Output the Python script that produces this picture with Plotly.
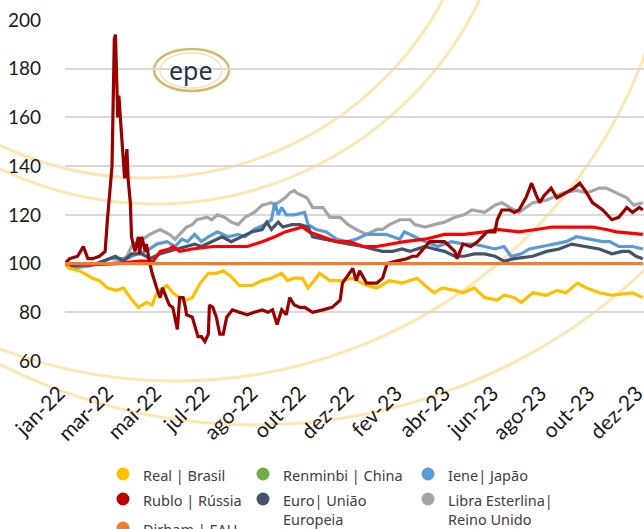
import plotly.graph_objects as go

# ---------------- data (trading-day index, index 100 = jan-22) ----------------
tick_idx = [0, 42, 84, 126, 168, 210, 252, 294, 336, 378, 420, 462, 504]
tick_labels = ["jan-22", "mar-22", "mai-22", "jul-22", "ago-22", "out-22", "dez-22",
               "fev-23", "abr-23", "jun-23", "ago-23", "out-23", "dez-23"]

real_x = [0,4,13,24,30,37,45,51,57,64,71,76,80,83,89,94,100,106,111,118,125,132,138,144,152,163,172,180,189,194,
          200,207,212,219,222,231,242,251,263,272,283,294,307,314,322,329,340,347,357,366,377,383,392,398,408,420,429,
          437,447,455,466,477,495,504]
real_y = [100,98,97,94,93,90,89,90,86,82,84,83,88,89,91,88,86,85,86,92,96,96,97,95,91,91,93,94,96,93,
          94,94,90,94,96,93,93,94,91,90,93,92,94,91,88,90,89,88,90,86,85,87,86,84,88,87,89,
          88,92,90,88,87,88,86]

rublo_x = [0,4,11,16,20,24,30,35,37,41,43,44,46,47,49,51,52,54,55,57,58,61,64,65,67,70,71,74,76,80,83,85,89,91,94,98,
           100,103,105,106,111,113,116,119,122,125,126,129,132,135,138,141,146,152,159,165,172,177,181,185,189,193,196,
           200,205,209,216,225,233,240,242,248,251,254,257,263,272,277,281,289,298,303,307,318,331,340,342,347,354,360,
           368,375,377,381,388,392,396,402,407,411,414,418,424,429,437,444,449,455,460,469,477,483,490,495,501,504]
rublo_y = [100,102,103,107,102,102,103,105,118,140,192,194,160,169,155,144,135,147,135,125,111,105,111,104,111,105,108,100,96,90,86,90,85,83,82,73,
           86,86,82,79,78,75,70,70,68,71,83,82,78,71,71,78,81,80,79,80,81,80,81,75,81,79,86,
           83,82,82,80,81,82,85,92,96,98,93,97,92,92,94,100,101,102,103,103,109,109,105,102,108,107,109,
           113,113,118,122,122,121,122,127,133,128,125,128,131,127,129,131,133,129,125,122,118,119,123,121,123,122]

dirham_x = [0, 504]
dirham_y = [100, 100]

renminbi_x = [0,20,45,65,77,83,91,94,100,111,129,146,159,172,183,192,200,207,213,225,237,248,260,272,283,296,314,331,
              348,366,377,396,411,425,442,460,472,481,504]
renminbi_y = [100,99.5,100,101,101,105,106,107,105,106,107,107,107,109,111,113,114,115,113,111,109,109,107,107,108,109,110,112,
              112,113,114,113,114,115,115,115,114,113,112]

euro_x = [0,4,28,39,44,51,58,67,74,83,91,98,106,113,119,128,137,145,154,163,172,176,180,186,190,198,205,212,216,225,
          237,248,260,268,277,286,294,301,314,322,331,340,348,357,366,375,383,392,408,420,431,442,455,466,477,486,492,498,504]
euro_y = [100,99,100,102,103,101,104,104,102,104,105,106,107,108,107,109,111,109,111,113,114,117,114,117,115,116,116,115,111,110,
          109,108,107,106,105,105,106,105,107,106,105,103,103,104,104,103,101,102,103,105,106,108,107,106,104,105,105,103,102]

iene_x = [0,4,22,39,54,63,71,80,89,96,102,107,113,119,125,133,142,151,157,165,174,180,183,186,189,193,200,209,212,219,
          228,237,246,254,263,272,280,292,296,305,314,325,337,348,357,366,375,383,389,398,405,416,425,437,446,457,469,475,
          483,495,504]
iene_y = [100,98,99,102,102,104,105,108,109,107,110,109,112,109,111,113,111,112,111,114,116,118,125,120,123,120,120,121,116,114,
          113,110,109,110,112,112,112,110,113,111,109,107,109,108,108,107,106,107,103,104,106,107,108,109,111,110,109,109,
          107,107,106]

libra_x = [0,10,25,40,48,54,59,68,74,78,83,91,96,102,106,111,115,124,128,133,139,145,151,157,165,172,180,183,192,196,
           200,202,211,216,225,231,240,247,254,263,272,277,283,292,301,305,314,322,331,340,348,355,366,375,381,388,396,
           408,420,434,446,455,466,472,481,490,496,504]
libra_y = [100,99,100,100,101,103,108,110,112,113,114,112,110,113,115,116,118,119,118,120,119,117,116,119,121,124,125,124,127,129,
           130,129,127,123,123,119,119,116,114,112,114,114,116,118,118,116,115,116,117,119,120,122,121,124,125,123,121,
           125,126,129,130,129,131,131,129,127,124,125]

legend_names = ["Real | Brasil", "Rublo | Rússia", "Dirham | EAU", "Renminbi | China",
                "Euro| União<br>Europeia", "Iene| Japão", "Libra Esterlina|<br>Reino Unido"]
legend_colors = ["#FFC000", "#C00000", "#ED7D31", "#70AD47", "#44546A", "#5B9BD5", "#A5A5A5"]

# ---------------- figure geometry ----------------
W, H = 644, 529
L, R, T, B = 65, 0, 20, 168
PW, PH = W - L - R, H - T - B

def px(xp):
    return (xp - L) / PW

def py(yp):
    return (H - B - yp) / PH

fig = go.Figure()

lw = 3.2
series = [
    (libra_x, libra_y, "#A5A5A5", "Libra Esterlina | Reino Unido"),
    (iene_x, iene_y, "#5B9BD5", "Iene | Japão"),
    (euro_x, euro_y, "#44546A", "Euro | União Europeia"),
    (real_x, real_y, "#FFC000", "Real | Brasil"),
    (renminbi_x, renminbi_y, "#FF0000", "Renminbi | China"),
    (rublo_x, rublo_y, "#990000", "Rublo | Rússia"),
    (dirham_x, dirham_y, "#ED7D31", "Dirham | EAU"),
]
for xs, ys, col, nm in series:
    fig.add_trace(go.Scatter(x=xs, y=ys, mode="lines", name=nm, showlegend=False,
                             line=dict(color=col, width=lw), hoverinfo="x+y+name"))

shapes = []
# decorative arcs (background template)
arc_col = "rgba(255,196,70,0.42)"
for cx, cy, r in [(145, -160, 338), (155, -156, 360), (176, -119, 500), (255, -142, 567)]:
    shapes.append(dict(type="circle", xref="paper", yref="paper", layer="below",
                       x0=px(cx - r), x1=px(cx + r), y0=py(cy + r), y1=py(cy - r),
                       line=dict(color=arc_col, width=3)))
# logo ring
shapes.append(dict(type="circle", xref="paper", yref="paper", layer="below",
                   x0=px(154), x1=px(229), y0=py(91), y1=py(49),
                   line=dict(color="rgba(200,160,60,0.75)", width=2.5)))
shapes.append(dict(type="circle", xref="paper", yref="paper", layer="below",
                   x0=px(160), x1=px(222), y0=py(88), y1=py(53),
                   line=dict(color="rgba(225,200,120,0.5)", width=1.5)))

annotations = [dict(text="epe", xref="paper", yref="paper", x=px(191), y=py(70),
                    showarrow=False, font=dict(family="Noto Sans", size=25, color="#1D3552"),
                    xanchor="center", yanchor="middle")]

# manual legend (3 columns, column-major like the original)
leg_pos = [(123, 474), (123, 499), (123, 528), (263, 474), (263, 499), (428, 474), (428, 499)]
for (mx, my), nm, col in zip(leg_pos, legend_names, legend_colors):
    shapes.append(dict(type="circle", xref="paper", yref="paper", xsizemode="pixel", ysizemode="pixel",
                       xanchor=px(mx), yanchor=py(my), x0=-6.5, x1=6.5, y0=-6.5, y1=6.5,
                       fillcolor=col, line=dict(width=0)))
    annotations.append(dict(text=nm, xref="paper", yref="paper", x=px(mx + 18), y=py(my - 11),
                            showarrow=False, xanchor="left", yanchor="top", align="left",
                            font=dict(family="Noto Sans", size=14.5, color="#404040")))

fig.update_layout(
    width=W, height=H, margin=dict(l=L, r=R, t=T, b=B, pad=0, autoexpand=False),
    paper_bgcolor="white", plot_bgcolor="rgba(0,0,0,0)",
    shapes=shapes, annotations=annotations, showlegend=False,
    font=dict(family="Lato", color="#1a1a1a"),
)
fig.update_xaxes(range=[0, 505], tickvals=tick_idx, ticktext=tick_labels, tickangle=-45,
                 showgrid=False, zeroline=False, showline=False, ticks="", automargin=False,
                 ticklabeloverflow="allow", ticklabelshift=-6,
                 tickfont=dict(family="Lato", size=21, color="#1a1a1a"), ticklabelstandoff=15)
fig.update_yaxes(range=[60, 200], dtick=20, showgrid=True, gridcolor="#D9D9D9", gridwidth=1.5,
                 zeroline=False, showline=False, ticks="", automargin=False,
                 tickfont=dict(family="Lato", size=19, color="#1a1a1a"), ticklabelstandoff=23)

fig.write_html("out.html", config={"displayModeBar": False},
               post_script="document.body.style.margin='0';document.body.style.overflow='hidden';")
